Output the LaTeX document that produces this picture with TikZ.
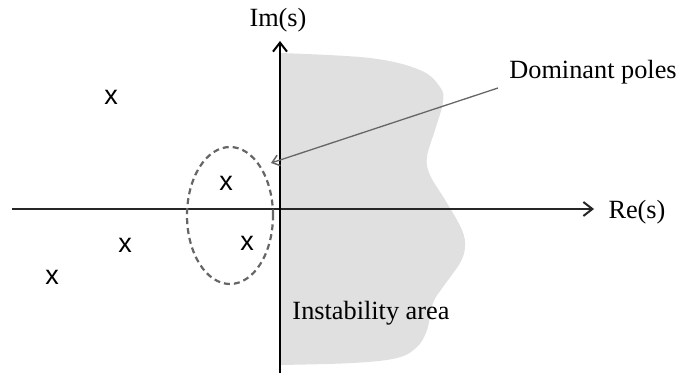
\documentclass[tikz,border=0pt]{standalone}
\usepackage{fontspec}
\setmainfont{Liberation Serif}
\newfontfamily\polefont{Liberation Sans}
\usetikzlibrary{arrows.meta,shapes.geometric}
\definecolor{shade}{RGB}{224,224,224}
\begin{document}
\begin{tikzpicture}[
      x=1pt, y=-1pt,
      every node/.style={font=\fontsize{26.3}{30}\selectfont},
      axis/.style={line width=1.6pt, -{Straight Barb[length=9pt, width=14pt, line width=2pt]}},
      region/.style={fill=shade},
      pole/.style={inner sep=0pt, font=\polefont\fontsize{27}{30}\selectfont},
      ring/.style={ellipse, draw=black!60, line width=2.2pt, dash pattern=on 6pt off 4pt, minimum width=86pt, minimum height=137pt, inner sep=0pt},
      pointer/.style={draw=black!60, line width=1.3pt, -{Straight Barb[length=7pt, width=11pt, line width=1.5pt]}}
  ]
    \useasboundingbox (0,0) rectangle (681,374);

    % unstable half plane
    \fill[region] plot[smooth, tension=0.6] coordinates {(280,53) (370,58) (420,70) (440,87) (443,102) (435,130) (427,157) (430,175) (447,203) (462,230) (465,247) (460,263) (443,287) (433,303) (427,330) (417,347) (397,358) (353,363) (280,365)} -- cycle;

    \node (im) at (278,20) {Im(s)};
    \node (re) at (637,212) {Re(s)};
    \node (dom) at (593,72) {Dominant poles};
    \node (inst) at (371,313) {Instability area};

    \draw[axis, draw=black!85] (12,209) -- (594,209);
    \draw[axis] (280,373) -- (280,41);

    \node[ring] (ring) at (230,215.5) {};
    \node[pole] (p1) at (111,97) {x};
    \node[pole] (p2) at (125,245) {x};
    \node[pole] (p3) at (52,277) {x};
    \node[pole] (p4) at (226,183) {x};
    \node[pole] (p5) at (247,243) {x};

    \coordinate (from) at (498,88);
    \coordinate (tip) at (271,163);
    \draw[pointer] (from) -- (tip);
  \end{tikzpicture}
\end{document}
